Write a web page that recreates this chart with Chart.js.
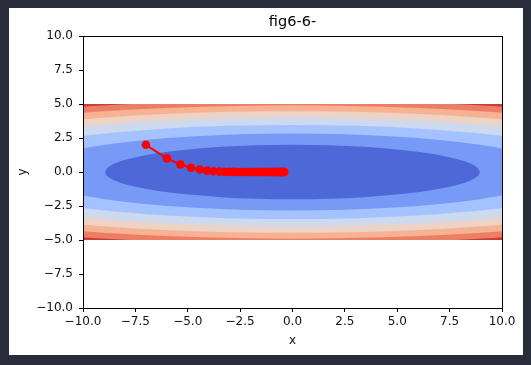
<!DOCTYPE html>
<html>
<head>
<meta charset="utf-8">
<script src="https://cdn.jsdelivr.net/npm/chart.js@4.4.1/dist/chart.umd.min.js"></script>
<style>
  html, body { margin: 0; padding: 0; background: #282c3b; width: 531px; height: 365px; overflow: hidden; }
  #fig { position: absolute; left: 9px; top: 8px; width: 514px; height: 347px; background: #ffffff; }
  canvas { display: block; }
</style>
</head>
<body>
<div id="fig"><canvas id="c" width="514" height="347"></canvas></div>
<script>
// ---- data ----
const titleText = "fig6-6-";
const xLabel = "x";
const yLabel = "y";
const tickValues = [-10, -7.5, -5, -2.5, 0, 2.5, 5, 7.5, 10];
// contour levels of f(x,y) = x^2/20 + y^2 (grid limited to |x|<=10, |y|<=5)
const levels = [0, 4, 8, 12, 16, 20, 24, 28, 32];
const bandColors = ["rgb(77,104,215)", "rgb(119,154,247)", "rgb(163,194,255)", "rgb(204,217,238)",
                    "rgb(236,211,197)", "rgb(247,177,147)", "rgb(236,127,99)", "rgb(203,62,56)"];
const gridXRange = [-10, 10];
const gridYRange = [-5, 5];
// optimizer path
const pathX = [-7.00, -6.00, -5.35, -4.85, -4.43, -4.08, -3.77, -3.49, -3.25, -3.02, -2.82, -2.63, -2.46,
               -2.30, -2.15, -2.02, -1.89, -1.77, -1.66, -1.56, -1.47, -1.38, -1.29, -1.21, -1.14, -1.07,
               -1.01, -0.95, -0.89, -0.84, -0.79, -0.74, -0.70, -0.65, -0.61, -0.58, -0.54, -0.51, -0.48,
               -0.45, -0.42, -0.40];
const pathY = [2.00, 1.00, 0.55, 0.31, 0.18, 0.10, 0.06, 0.03, 0.02, 0.01, 0.01, 0, 0,
               0, 0, 0, 0, 0, 0, 0, 0, 0, 0, 0, 0, 0,
               0, 0, 0, 0, 0, 0, 0, 0, 0, 0, 0, 0, 0,
               0, 0, 0];

const FONT = "'DejaVu Sans', sans-serif";

const contourPlugin = {
  id: 'contour',
  beforeDatasetsDraw(chart) {
    const ctx = chart.ctx, xs = chart.scales.x, ys = chart.scales.y;
    const x0 = xs.getPixelForValue(gridXRange[0]), x1 = xs.getPixelForValue(gridXRange[1]);
    const y0 = ys.getPixelForValue(gridYRange[1]), y1 = ys.getPixelForValue(gridYRange[0]);
    ctx.save();
    ctx.beginPath();
    ctx.rect(x0, y0, x1 - x0, y1 - y0);
    ctx.clip();
    ctx.fillStyle = bandColors[bandColors.length - 1];
    ctx.fillRect(x0, y0, x1 - x0, y1 - y0);
    const cx = xs.getPixelForValue(0), cy = ys.getPixelForValue(0);
    for (let i = levels.length - 2; i >= 1; i--) {
      const L = levels[i];
      const rx = Math.abs(xs.getPixelForValue(Math.sqrt(20 * L)) - cx);
      const ry = Math.abs(ys.getPixelForValue(Math.sqrt(L)) - cy);
      ctx.beginPath();
      ctx.ellipse(cx, cy, rx, ry, 0, 0, Math.PI * 2);
      ctx.fillStyle = bandColors[i - 1];
      ctx.fill();
    }
    ctx.restore();
  },
  afterDraw(chart) {
    const ctx = chart.ctx, a = chart.chartArea;
    ctx.save();
    ctx.strokeStyle = '#000';
    ctx.lineWidth = 1;
    ctx.strokeRect(Math.round(a.left) + 0.5, Math.round(a.top) + 0.5, Math.round(a.right - a.left), Math.round(a.bottom - a.top));
    ctx.fillStyle = '#000';
    ctx.font = "14.5px " + FONT;
    ctx.textAlign = 'center';
    ctx.textBaseline = 'alphabetic';
    ctx.fillText(titleText, (a.left + a.right) / 2, 17.5);
    ctx.restore();
  }
};

function fmt(v) {
  const s = Number(v).toFixed(1);
  return s.replace('-', '\u2212');
}

const axisCommon = {
  type: 'linear',
  min: -10, max: 10,
  afterBuildTicks(scale) { scale.ticks = tickValues.map(v => ({ value: v })); },
  grid: { drawOnChartArea: false, drawTicks: true, tickLength: 4, color: '#000', lineWidth: 1 },
  border: { display: true, color: '#000', width: 1 },
};

new Chart(document.getElementById('c'), {
  type: 'scatter',
  data: {
    datasets: [{
      data: pathX.map((x, i) => ({ x: x, y: pathY[i] })),
      showLine: true,
      borderColor: '#ff0000',
      backgroundColor: '#ff0000',
      borderWidth: 2,
      pointRadius: 4.3,
      pointBorderWidth: 0,
      pointBackgroundColor: '#ff0000',
    }]
  },
  options: {
    responsive: false,
    animation: false,
    devicePixelRatio: 1,
    layout: { padding: { top: 28, right: 21, left: 0, bottom: 0 } },
    plugins: { legend: { display: false }, tooltip: { enabled: false }, title: { display: false } },
    scales: {
      x: Object.assign({}, axisCommon, {
        position: 'bottom',
        ticks: { color: '#111', font: { family: FONT, size: 12 }, padding: 3, maxRotation: 0, autoSkip: false, callback: v => fmt(v) },
        title: { display: true, text: xLabel, color: '#111', font: { family: FONT, size: 12 }, padding: { top: 0, bottom: 7 } },
        afterFit(scale) { scale.height = 47; }
      }),
      y: Object.assign({}, axisCommon, {
        position: 'left',
        ticks: { color: '#111', font: { family: FONT, size: 12 }, padding: 6, autoSkip: false, callback: v => fmt(v) },
        title: { display: true, text: yLabel, color: '#111', font: { family: FONT, size: 12 }, padding: { top: 7, bottom: 0 } },
        afterFit(scale) { scale.width = 74; }
      })
    }
  },
  plugins: [contourPlugin]
});
</script>
</body>
</html>
